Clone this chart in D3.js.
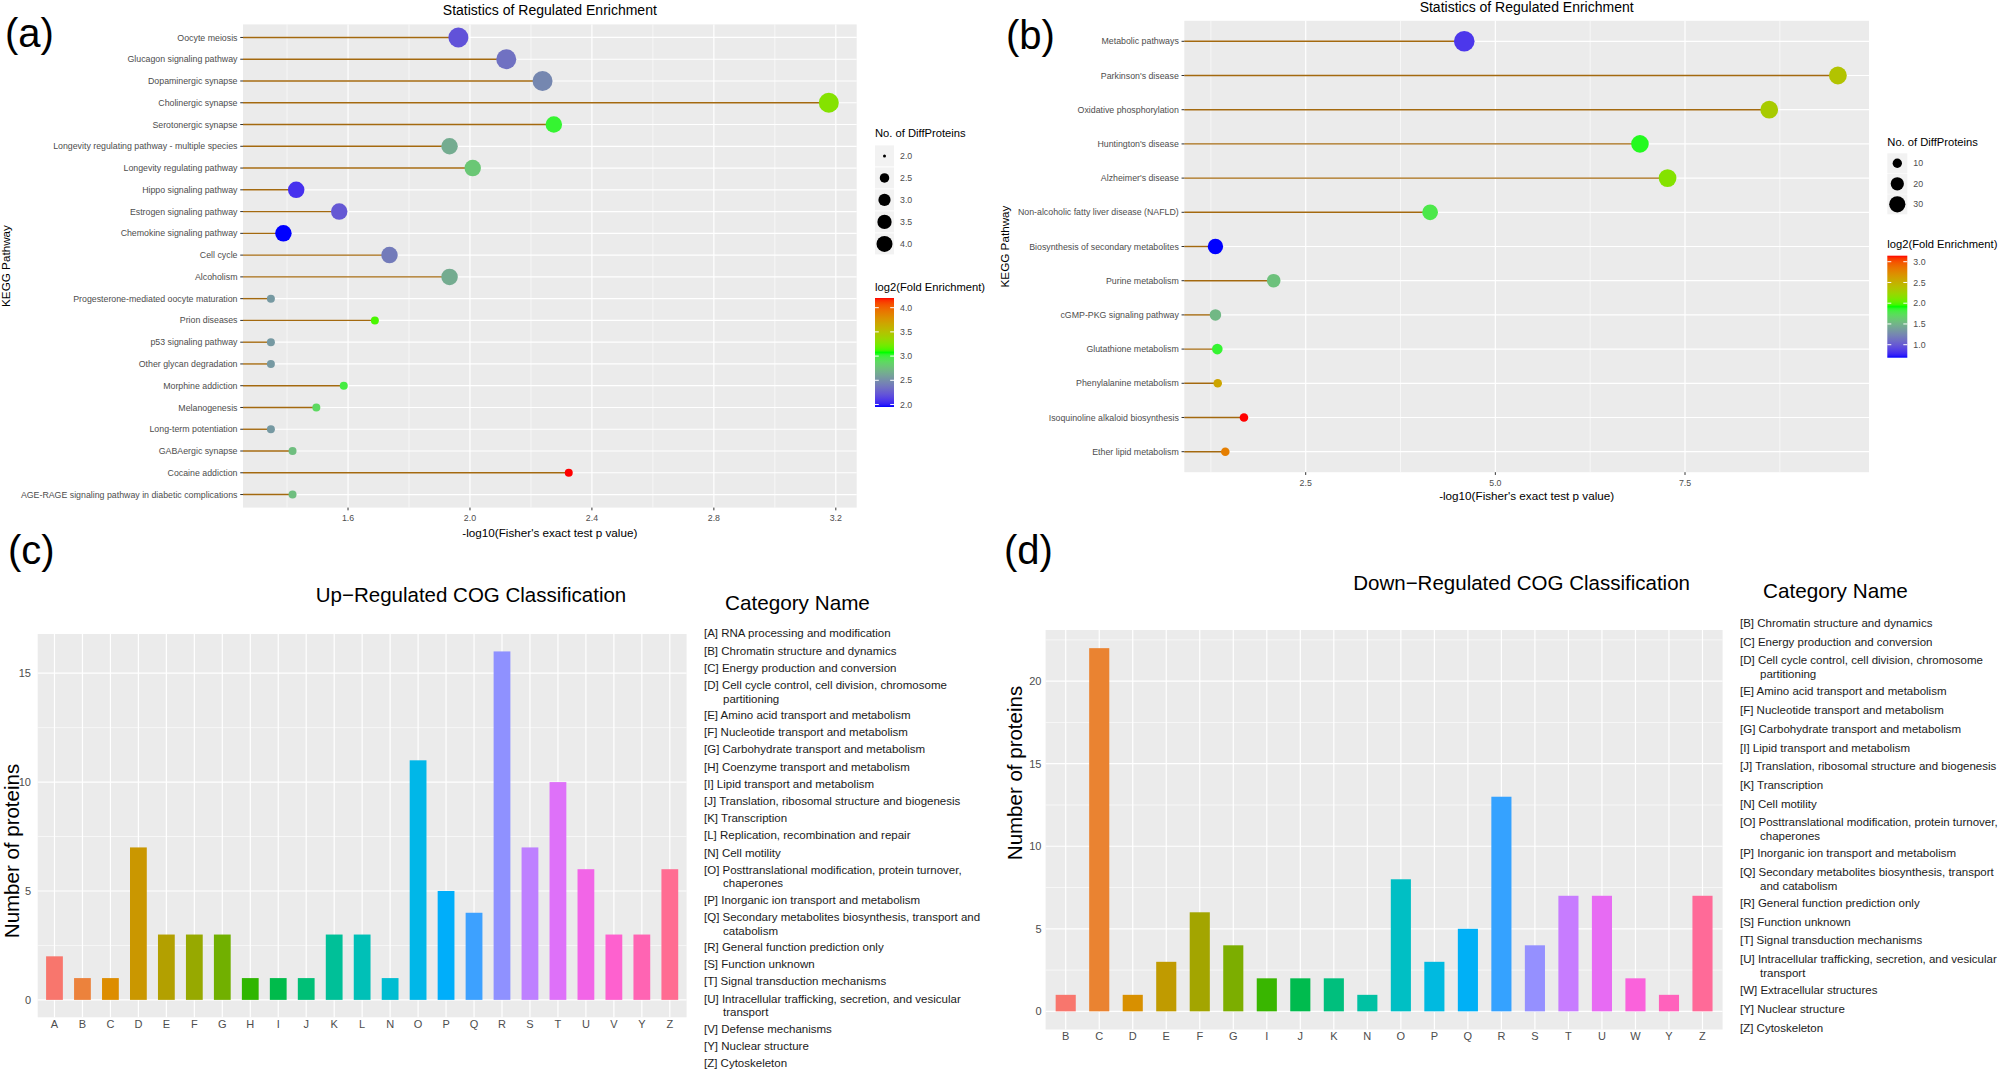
<!DOCTYPE html>
<html><head><meta charset="utf-8">
<script src="https://cdn.jsdelivr.net/npm/d3@7"></script>
<style>
html,body{margin:0;padding:0;background:#fff;}
svg{display:block;font-family:"Liberation Sans",Arial,Helvetica,sans-serif;}
</style></head><body>
<svg id="chart" width="2008" height="1069"></svg>
<script>
// ---------------- Panel (a): up-regulated KEGG enrichment ----------------
const aPathways = ["Oocyte meiosis","Glucagon signaling pathway","Dopaminergic synapse","Cholinergic synapse","Serotonergic synapse","Longevity regulating pathway - multiple species","Longevity regulating pathway","Hippo signaling pathway","Estrogen signaling pathway","Chemokine signaling pathway","Cell cycle","Alcoholism","Progesterone-mediated oocyte maturation","Prion diseases","p53 signaling pathway","Other glycan degradation","Morphine addiction","Melanogenesis","Long-term potentiation","GABAergic synapse","Cocaine addiction","AGE-RAGE signaling pathway in diabetic complications"];
const aLogP = [1.962,2.119,2.238,3.177,2.275,1.933,2.009,1.430,1.571,1.388,1.736,1.933,1.347,1.688,1.347,1.347,1.586,1.496,1.347,1.418,2.324,1.418];
const aCount = [4,4,4,4,3,3,3,3,3,3,3,3,2,2,2,2,2,2,2,2,2,2];
const aFold = [2.20,2.35,2.46,3.28,3.02,2.65,2.79,2.06,2.23,1.948,2.40,2.65,2.55,3.13,2.55,2.55,2.98,2.88,2.55,2.74,4.20,2.74];
const aXTicks = [1.6,2.0,2.4,2.8,3.2];
const aSizeBreaks = [2.0,2.5,3.0,3.5,4.0];
const aColorBreaks = [2.0,2.5,3.0,3.5,4.0];

// ---------------- Panel (b): down-regulated KEGG enrichment ----------------
const bPathways = ["Metabolic pathways","Parkinson's disease","Oxidative phosphorylation","Huntington's disease","Alzheimer's disease","Non-alcoholic fatty liver disease (NAFLD)","Biosynthesis of secondary metabolites","Purine metabolism","cGMP-PKG signaling pathway","Glutathione metabolism","Phenylalanine metabolism","Isoquinoline alkaloid biosynthesis","Ether lipid metabolism"];
const bLogP = [4.59,9.515,8.61,6.906,7.27,4.14,1.31,2.078,1.31,1.335,1.34,1.686,1.44];
const bCount = [38,24,24,23,24,16,15,10,6,5,4,4,4];
const bFold = [0.835,2.37,2.31,1.89,2.14,1.79,0.687,1.57,1.52,1.855,2.57,3.145,2.80];
const bXTicks = [2.5,5.0,7.5];
const bSizeBreaks = [10,20,30];
const bColorBreaks = [1.0,1.5,2.0,2.5,3.0];

// ---------------- Panel (c): up-regulated COG ----------------
const upCategories = ["A","B","C","D","E","F","G","H","I","J","K","L","N","O","P","Q","R","S","T","U","V","Y","Z"];
const upCounts = [2,1,1,7,3,3,3,1,1,1,3,3,1,11,5,4,16,7,10,6,3,3,6];
const upYTicks = [0,5,10,15];
const upNames = ["[A] RNA processing and modification","[B] Chromatin structure and dynamics","[C] Energy production and conversion","[D] Cell cycle control, cell division, chromosome\npartitioning","[E] Amino acid transport and metabolism","[F] Nucleotide transport and metabolism","[G] Carbohydrate transport and metabolism","[H] Coenzyme transport and metabolism","[I] Lipid transport and metabolism","[J] Translation, ribosomal structure and biogenesis","[K] Transcription","[L] Replication, recombination and repair","[N] Cell motility","[O] Posttranslational modification, protein turnover,\nchaperones","[P] Inorganic ion transport and metabolism","[Q] Secondary metabolites biosynthesis, transport and\ncatabolism","[R] General function prediction only","[S] Function unknown","[T] Signal transduction mechanisms","[U] Intracellular trafficking, secretion, and vesicular\ntransport","[V] Defense mechanisms","[Y] Nuclear structure","[Z] Cytoskeleton"];

// ---------------- Panel (d): down-regulated COG ----------------
const downCategories = ["B","C","D","E","F","G","I","J","K","N","O","P","Q","R","S","T","U","W","Y","Z"];
const downCounts = [1,22,1,3,6,4,2,2,2,1,8,3,5,13,4,7,7,2,1,7];
const downYTicks = [0,5,10,15,20];
const downNames = ["[B] Chromatin structure and dynamics","[C] Energy production and conversion","[D] Cell cycle control, cell division, chromosome\npartitioning","[E] Amino acid transport and metabolism","[F] Nucleotide transport and metabolism","[G] Carbohydrate transport and metabolism","[I] Lipid transport and metabolism","[J] Translation, ribosomal structure and biogenesis","[K] Transcription","[N] Cell motility","[O] Posttranslational modification, protein turnover,\nchaperones","[P] Inorganic ion transport and metabolism","[Q] Secondary metabolites biosynthesis, transport\nand catabolism","[R] General function prediction only","[S] Function unknown","[T] Signal transduction mechanisms","[U] Intracellular trafficking, secretion, and vesicular\ntransport","[W] Extracellular structures","[Y] Nuclear structure","[Z] Cytoskeleton"];

// ---------------- helpers ----------------
const svg = d3.select("#chart");
const AXIS_GRAY = "#4D4D4D";
const PANEL_BG = "#EBEBEB";
const SEG_COLOR = "#A3690F";

// R's hcl() (polar LUV) -> hex, used to reproduce ggplot's hue palette
function hclR(h, c, l) {
  const WY = 100, Wu = 0.1978398, Wv = 0.4683363;
  const hr = h * Math.PI / 180;
  const U = c * Math.cos(hr), V = c * Math.sin(hr);
  const Y = WY * (l > 7.999592 ? Math.pow((l + 16) / 116, 3) : l / 903.3);
  const u = U / (13 * l) + Wu, v = V / (13 * l) + Wv;
  const X = 9.0 * Y * u / (4 * v);
  const Z = -X / 3 - 5 * Y + 3 * Y / v;
  const gt = t => t > 0.00304 ? 1.055 * Math.pow(t, 1 / 2.4) - 0.055 : 12.92 * t;
  const cl = t => Math.max(0, Math.min(1, t));
  const R = cl(gt((3.240479 * X - 1.537150 * Y - 0.498535 * Z) / WY));
  const G = cl(gt((-0.969256 * X + 1.875992 * Y + 0.041556 * Z) / WY));
  const B = cl(gt((0.055648 * X - 0.204043 * Y + 1.057311 * Z) / WY));
  return d3.rgb(R * 255, G * 255, B * 255).formatHex();
}
function huePal(n) { return d3.range(n).map(i => hclR((15 + i * 360 / n) % 360, 100, 65)); }
function expandDomain(vals, m) { const [a, b] = d3.extent(vals); const r = b - a; return [a - r * m, b + r * m]; }
function minorOf(major, dom) {
  const step = major[1] - major[0];
  const all = [major[0] - step].concat(major);
  return all.map(t => t + step / 2).filter(t => t > dom[0] && t < dom[1]);
}

function panelLabel(txt, x, y) {
  svg.append("text").attr("x", x).attr("y", y).attr("font-size", 40).attr("fill", "#000").text(txt);
}

// ---------------- lollipop panel ----------------
function drawLollipop(o) {
  const g = svg.append("g");
  const x = d3.scaleLinear().domain(expandDomain(o.logP, 0.05)).range([o.left, o.right]);
  const y = d3.scalePoint().domain(o.names).range([o.top, o.bottom]).padding(0.6);
  const [fmin, fmax] = d3.extent(o.fold);
  const color = d3.scaleLinear().domain([fmin, (fmin + fmax) / 2, fmax])
    .range(["#0000FF", "#00FF00", "#FF0000"]).interpolate(d3.interpolateLab);
  const [cmin, cmax] = d3.extent(o.count);
  const rS = d3.scaleSqrt().domain([0, cmax - cmin]).range([0, o.rMax - o.rMin]);
  const rad = n => o.rMin + rS(n - cmin);

  g.append("rect").attr("x", o.left).attr("y", o.top).attr("width", o.right - o.left).attr("height", o.bottom - o.top).attr("fill", PANEL_BG);
  g.selectAll(null).data(minorOf(o.xTicks, x.domain())).join("line")
    .attr("x1", d => x(d)).attr("x2", d => x(d)).attr("y1", o.top).attr("y2", o.bottom)
    .attr("stroke", "#fff").attr("stroke-width", 0.6);
  g.selectAll(null).data(o.xTicks).join("line")
    .attr("x1", d => x(d)).attr("x2", d => x(d)).attr("y1", o.top).attr("y2", o.bottom)
    .attr("stroke", "#fff").attr("stroke-width", 1.2);
  g.selectAll(null).data(o.names).join("line")
    .attr("x1", o.left).attr("x2", o.right).attr("y1", d => y(d)).attr("y2", d => y(d))
    .attr("stroke", "#fff").attr("stroke-width", 1.2);
  // segments
  g.selectAll(null).data(o.names).join("line")
    .attr("x1", o.left).attr("x2", (d, i) => x(o.logP[i])).attr("y1", d => y(d)).attr("y2", d => y(d))
    .attr("stroke", SEG_COLOR).attr("stroke-width", 1.4);
  // points
  g.selectAll(null).data(o.names).join("circle")
    .attr("cx", (d, i) => x(o.logP[i])).attr("cy", d => y(d)).attr("r", (d, i) => rad(o.count[i]))
    .attr("fill", (d, i) => color(o.fold[i]));
  // y axis
  g.selectAll(null).data(o.names).join("line")
    .attr("x1", o.left - 2.75).attr("x2", o.left).attr("y1", d => y(d)).attr("y2", d => y(d))
    .attr("stroke", "#333").attr("stroke-width", 1);
  g.selectAll(null).data(o.names).join("text")
    .attr("x", o.left - 5.5).attr("y", d => y(d)).attr("dy", "0.35em").attr("text-anchor", "end")
    .attr("font-size", 8.8).attr("fill", AXIS_GRAY).text(d => d);
  // x axis
  g.selectAll(null).data(o.xTicks).join("line")
    .attr("x1", d => x(d)).attr("x2", d => x(d)).attr("y1", o.bottom).attr("y2", o.bottom + 2.75)
    .attr("stroke", "#333").attr("stroke-width", 1);
  g.selectAll(null).data(o.xTicks).join("text")
    .attr("x", d => x(d)).attr("y", o.bottom + 13.5).attr("text-anchor", "middle")
    .attr("font-size", 8.8).attr("fill", AXIS_GRAY).text(d => d3.format(".1f")(d));
  // titles
  g.append("text").attr("x", (o.left + o.right) / 2).attr("y", o.titleY).attr("text-anchor", "middle")
    .attr("font-size", 14).attr("fill", "#000").text("Statistics of Regulated Enrichment");
  g.append("text").attr("x", (o.left + o.right) / 2).attr("y", o.xTitleY).attr("text-anchor", "middle")
    .attr("font-size", 11.7).attr("fill", "#000").text("-log10(Fisher's exact test p value)");
  g.append("text").attr("transform", `translate(${o.yTitleX},${(o.top + o.bottom) / 2}) rotate(-90)`)
    .attr("text-anchor", "middle").attr("font-size", 11.7).attr("fill", "#000").text("KEGG Pathway");

  // size legend
  const L = o.legend;
  g.append("text").attr("x", L.x).attr("y", L.sizeTitleY).attr("font-size", 11.2).attr("fill", "#000").text("No. of DiffProteins");
  const lr = d3.scaleSqrt().domain([0, L.sizeSpan]).range([0, L.keyRMax - L.keyRMin]);
  o.sizeBreaks.forEach((b, i) => {
    const cy = L.keyY0 + i * L.keyStep;
    g.append("rect").attr("x", L.x).attr("y", cy - L.keyH / 2).attr("width", L.keyW).attr("height", L.keyH).attr("fill", "#F2F2F2");
    g.append("circle").attr("cx", L.x + L.keyW / 2).attr("cy", cy).attr("r", L.keyRMin + lr(b - L.sizeBase)).attr("fill", "#000");
    g.append("text").attr("x", L.x + L.keyW + 6).attr("y", cy).attr("dy", "0.35em").attr("font-size", 8.8).attr("fill", AXIS_GRAY).text(L.sizeFmt(b));
  });
  // colour bar
  g.append("text").attr("x", L.x).attr("y", L.colTitleY).attr("font-size", 11.2).attr("fill", "#000").text("log2(Fold Enrichment)");
  const gid = "grad" + o.id;
  const grad = svg.append("defs").append("linearGradient").attr("id", gid).attr("x1", 0).attr("y1", 1).attr("x2", 0).attr("y2", 0);
  d3.range(0, 1.0001, 0.02).forEach(t => {
    grad.append("stop").attr("offset", t).attr("stop-color", color(fmin + t * (fmax - fmin)));
  });
  const cb = d3.scaleLinear().domain([fmin, fmax]).range([L.barBottom, L.barTop]);
  g.append("rect").attr("x", L.x).attr("y", L.barTop).attr("width", L.keyW).attr("height", L.barBottom - L.barTop).attr("fill", `url(#${gid})`);
  o.colorBreaks.forEach(b => {
    const yy = cb(b);
    g.append("line").attr("x1", L.x).attr("x2", L.x + L.keyW / 5).attr("y1", yy).attr("y2", yy).attr("stroke", "#fff").attr("stroke-width", 1);
    g.append("line").attr("x1", L.x + L.keyW * 4 / 5).attr("x2", L.x + L.keyW).attr("y1", yy).attr("y2", yy).attr("stroke", "#fff").attr("stroke-width", 1);
    g.append("text").attr("x", L.x + L.keyW + 6).attr("y", yy).attr("dy", "0.35em").attr("font-size", 8.8).attr("fill", AXIS_GRAY).text(d3.format(".1f")(b));
  });
}

// ---------------- bar panel ----------------
function drawBars(o) {
  const g = svg.append("g");
  const x = d3.scalePoint().domain(o.cats).range([o.left, o.right]).padding(0.6);
  const step = x.step();
  const maxV = d3.max(o.counts);
  const y = d3.scaleLinear().domain([-0.05 * maxV, 1.05 * maxV]).range([o.bottom, o.top]);
  const pal = huePal(o.cats.length);

  g.append("rect").attr("x", o.left).attr("y", o.top).attr("width", o.right - o.left).attr("height", o.bottom - o.top).attr("fill", PANEL_BG);
  g.selectAll(null).data(minorOf(o.yTicks, y.domain())).join("line")
    .attr("x1", o.left).attr("x2", o.right).attr("y1", d => y(d)).attr("y2", d => y(d))
    .attr("stroke", "#fff").attr("stroke-width", 0.6);
  g.selectAll(null).data(o.yTicks).join("line")
    .attr("x1", o.left).attr("x2", o.right).attr("y1", d => y(d)).attr("y2", d => y(d))
    .attr("stroke", "#fff").attr("stroke-width", 1.2);
  g.selectAll(null).data(o.cats).join("line")
    .attr("x1", d => x(d)).attr("x2", d => x(d)).attr("y1", o.top).attr("y2", o.bottom)
    .attr("stroke", "#fff").attr("stroke-width", 1.2);
  g.selectAll(null).data(o.cats).join("rect")
    .attr("x", d => x(d) - step * 0.3).attr("width", step * 0.6)
    .attr("y", (d, i) => y(o.counts[i])).attr("height", (d, i) => y(0) - y(o.counts[i]))
    .attr("fill", (d, i) => pal[i]);
  // axes (no tick marks in the reference)
  g.selectAll(null).data(o.yTicks).join("text")
    .attr("x", o.yLabelX).attr("y", d => y(d)).attr("dy", "0.35em").attr("text-anchor", "end")
    .attr("font-size", 11).attr("fill", AXIS_GRAY).text(d => d);
  g.selectAll(null).data(o.cats).join("text")
    .attr("x", d => x(d)).attr("y", o.xLabelY).attr("text-anchor", "middle")
    .attr("font-size", 11).attr("fill", AXIS_GRAY).text(d => d);
  // titles
  g.append("text").attr("x", o.titleX).attr("y", o.titleY).attr("text-anchor", "middle")
    .attr("font-size", 20.5).attr("fill", "#000").text(o.title);
  g.append("text").attr("transform", `translate(${o.yTitleX},${o.yTitleY}) rotate(-90)`)
    .attr("text-anchor", "middle").attr("font-size", 20.5).attr("fill", "#000").text("Number of proteins");
  // category name list
  const N = o.namesLayout;
  g.append("text").attr("x", N.titleX).attr("y", N.titleY).attr("font-size", 20.7).attr("fill", "#000").text("Category Name");
  let yy = N.y0;
  o.names.forEach(nm => {
    const lines = nm.split("\n");
    const t = g.append("text").attr("x", N.x).attr("y", yy).attr("font-size", 11.5).attr("fill", "#1a1a1a");
    lines.forEach((ln, i) => {
      if (i === 0) t.append("tspan").text(ln);
      else t.append("tspan").attr("x", N.indentX).attr("dy", N.contDy).text(ln);
    });
    yy += N.step + (lines.length - 1) * N.extra;
  });
}

// ---------------- draw ----------------
panelLabel("(a)", 5, 47);
panelLabel("(b)", 1006, 49);
panelLabel("(c)", 8, 564);
panelLabel("(d)", 1004, 564);

drawLollipop({
  id: "a", names: aPathways, logP: aLogP, count: aCount, fold: aFold,
  xTicks: aXTicks, sizeBreaks: aSizeBreaks, colorBreaks: aColorBreaks,
  left: 243, right: 856.7, top: 24.4, bottom: 507.6,
  rMin: 4, rMax: 10,
  titleY: 14.5, xTitleY: 537, yTitleX: 10,
  legend: { x: 875, sizeTitleY: 136.5, keyY0: 155.9, keyStep: 22, keyW: 19, keyH: 21,
            keyRMin: 1.5, keyRMax: 8, sizeBase: 2, sizeSpan: 2, sizeFmt: d3.format(".1f"),
            colTitleY: 291, barTop: 298, barBottom: 407 }
});

drawLollipop({
  id: "b", names: bPathways, logP: bLogP, count: bCount, fold: bFold,
  xTicks: bXTicks, sizeBreaks: bSizeBreaks, colorBreaks: bColorBreaks,
  left: 1184.3, right: 1869, top: 20.8, bottom: 472.2,
  rMin: 4.3, rMax: 10.3,
  titleY: 12, xTitleY: 500, yTitleX: 1008.5,
  legend: { x: 1887.3, sizeTitleY: 145.6, keyY0: 163.3, keyStep: 20.5, keyW: 20, keyH: 20,
            keyRMin: 0, keyRMax: 8.1, sizeBase: 0, sizeSpan: 30, sizeFmt: d3.format("d"),
            colTitleY: 248, barTop: 255.7, barBottom: 357.7 }
});

drawBars({
  cats: upCategories, counts: upCounts, yTicks: upYTicks, names: upNames,
  left: 37.7, right: 686.6, top: 634, bottom: 1017.3,
  yLabelX: 31, xLabelY: 1027.5,
  title: "Up\u2212Regulated COG Classification", titleX: 471, titleY: 602,
  yTitleX: 19, yTitleY: 851,
  namesLayout: { titleX: 725, titleY: 609.5, x: 704, indentX: 723, y0: 637.3, step: 17.2, extra: 12.8, contDy: 13.6 }
});

drawBars({
  cats: downCategories, counts: downCounts, yTicks: downYTicks, names: downNames,
  left: 1045.6, right: 1722.6, top: 630, bottom: 1029.5,
  yLabelX: 1041.5, xLabelY: 1040,
  title: "Down\u2212Regulated COG Classification", titleX: 1521.6, titleY: 589.5,
  yTitleX: 1022, yTitleY: 773,
  namesLayout: { titleX: 1763, titleY: 598, x: 1740, indentX: 1760, y0: 627, step: 18.7, extra: 12.3, contDy: 14 }
});
</script>
</body></html>
